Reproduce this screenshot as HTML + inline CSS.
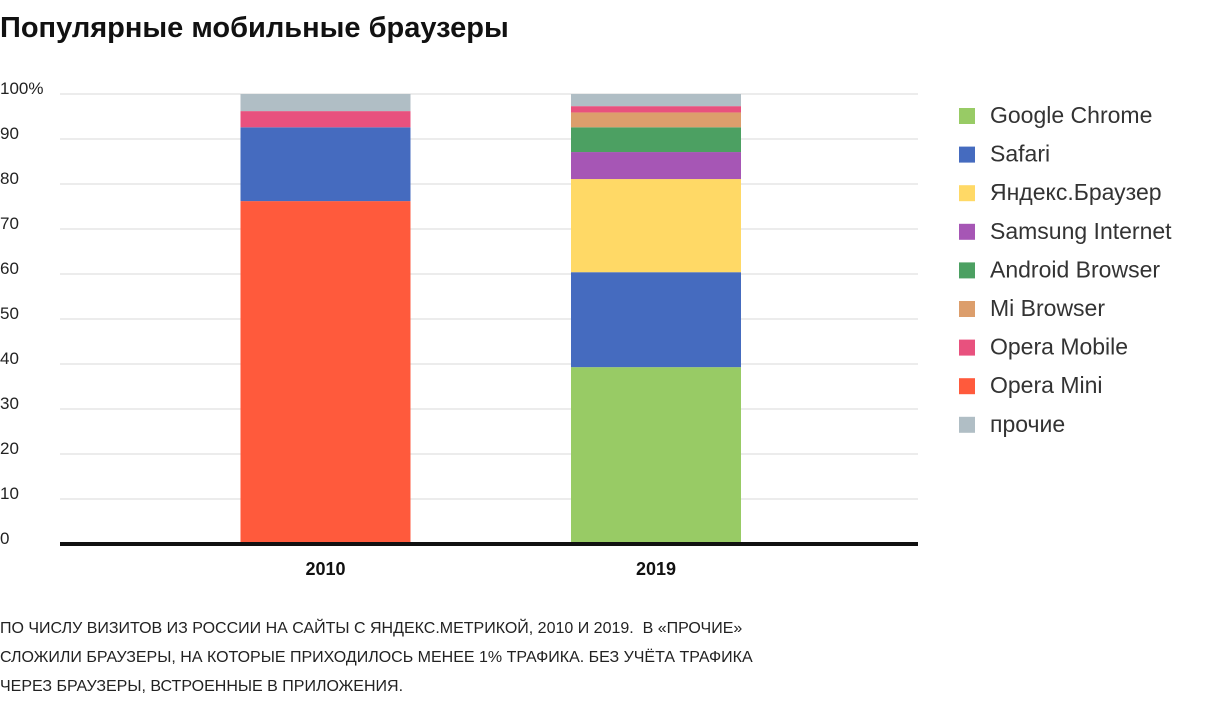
<!DOCTYPE html>
<html><head><meta charset="utf-8"><style>
body{margin:0;width:1205px;height:700px;background:#fff;font-family:"Liberation Sans",sans-serif;overflow:hidden;position:relative}
h1{position:absolute;left:0;top:12px;margin:0;font-size:29px;font-weight:bold;color:#111}
.note{position:absolute;left:0;top:614px;font-size:16px;line-height:29px;color:#222;width:900px}
</style></head><body>
<h1>Популярные мобильные браузеры</h1>
<svg id="c" width="1205" height="600" style="position:absolute;left:0;top:0"></svg>
<div class="note">ПО ЧИСЛУ ВИЗИТОВ ИЗ РОССИИ НА САЙТЫ С ЯНДЕКС.МЕТРИКОЙ, 2010 И 2019.&nbsp;&nbsp;В «ПРОЧИЕ»<br>СЛОЖИЛИ БРАУЗЕРЫ, НА КОТОРЫЕ ПРИХОДИЛОСЬ МЕНЕЕ 1% ТРАФИКА. БЕЗ УЧЁТА ТРАФИКА<br>ЧЕРЕЗ БРАУЗЕРЫ, ВСТРОЕННЫЕ В ПРИЛОЖЕНИЯ.</div>
<script>
const categories=["2010","2019"];
const seriesNames=["Google Chrome","Safari","Яндекс.Браузер","Samsung Internet","Android Browser","Mi Browser","Opera Mobile","Opera Mini","прочие"];
const colors=["#98cb65","#456bbf","#ffd966","#a656b5","#4ca062","#dc9e6c","#e8517e","#ff5a3c","#b0bec5"];
const values2010=[0,16.4,0,0,0,0,3.6,76.2,3.8];
const values2019=[39.3,21.1,20.7,6.0,5.5,3.3,1.4,0,2.7];
const stackOrder=[7,0,1,2,3,4,5,6,8];
const yTicks=[0,10,20,30,40,50,60,70,80,90,100];
const data=[values2010,values2019];
const NS="http://www.w3.org/2000/svg",svg=document.getElementById('c');
const y=v=>544-v*4.5;
const xCenters=[325.5,656];
const bw=170;
function mk(t,a){const e=document.createElementNS(NS,t);for(const k in a)e.setAttribute(k,a[k]);svg.appendChild(e);return e;}
yTicks.forEach(t=>{
 if(t>0){const l=mk('line',{x1:60,x2:918,y1:y(t),y2:y(t),stroke:'#ececec','stroke-width':2});
 
 }
 const tx=mk('text',{x:0,y:y(t)+(t===0?0:0),'font-size':17,fill:'#222'});
 tx.textContent=t===100?'100%':t;
 
 
});
data.forEach((vals,ci)=>{
 let acc=0;
 stackOrder.forEach(si=>{
  const v=vals[si];if(!v)return;
  const r=mk('rect',{x:xCenters[ci]-bw/2,y:y(acc+v),width:bw,height:v*4.5,fill:colors[si]});
  
  
  acc+=v;
 });
 const t=mk('text',{x:xCenters[ci],y:575,'text-anchor':'middle','font-size':18,'font-weight':'bold',fill:'#111'});
 t.textContent=categories[ci];
 
 
});
const base=mk('line',{x1:60,x2:918,y1:544,y2:544,stroke:'#111','stroke-width':4});


seriesNames.forEach((n,i)=>{
 const yy=116+i*38.6;
 const r=mk('rect',{x:959,y:yy-8,width:16,height:16,fill:colors[i]});
 
 
 const t=mk('text',{x:990,y:yy+7,'font-size':23,fill:'#333'});
 t.textContent=n;
 
 
});
</script>
</body></html>
